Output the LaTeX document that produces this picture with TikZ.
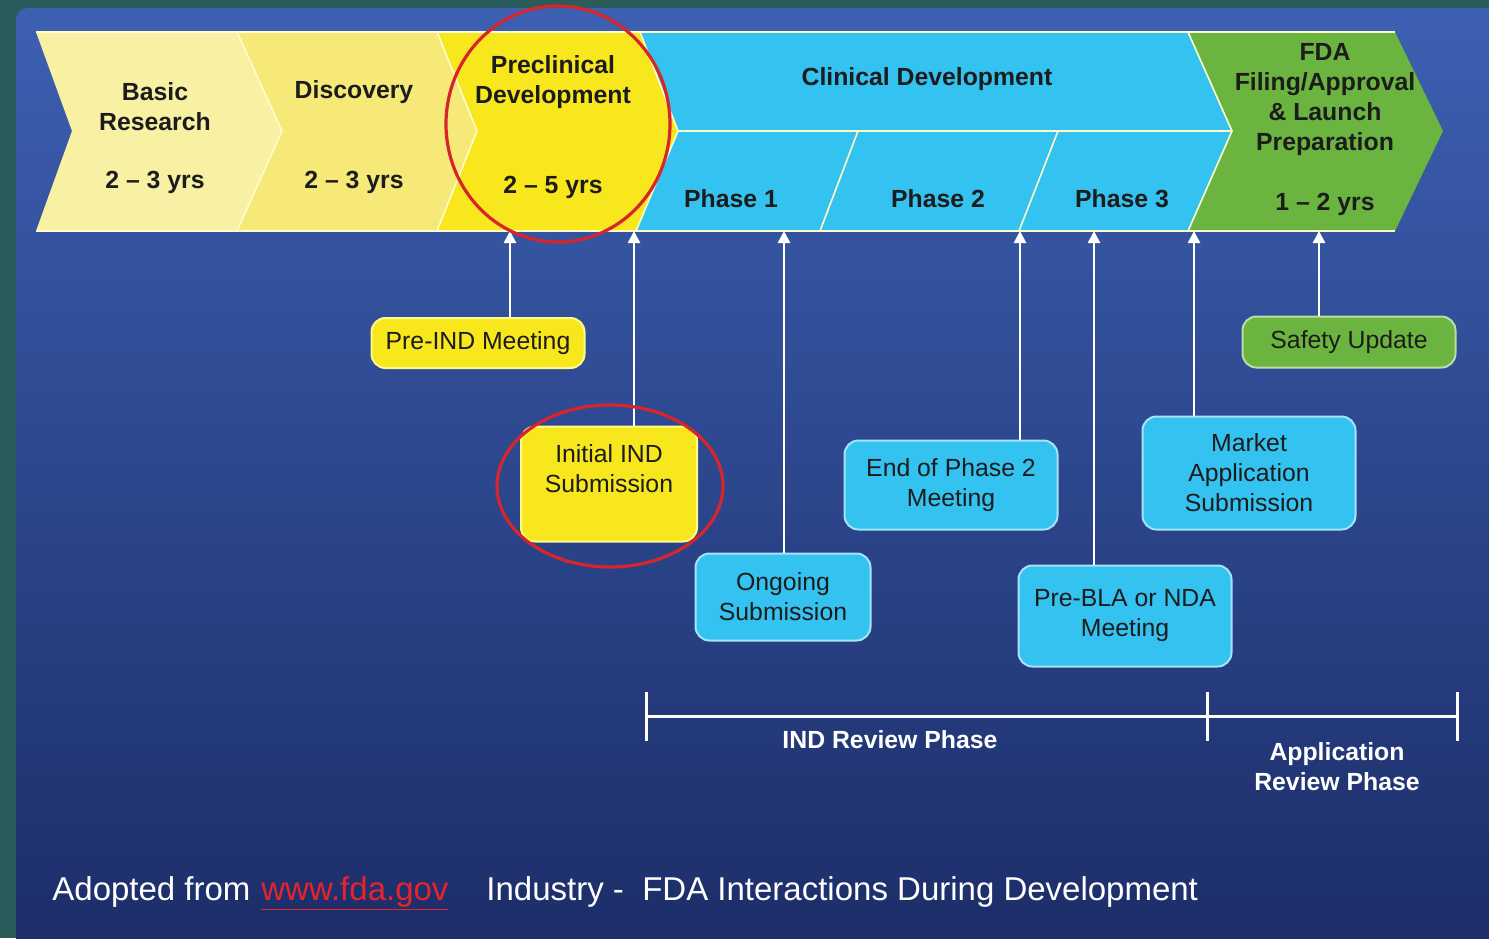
\documentclass[tikz,border=0pt]{standalone}
\usepackage{fontspec}
\setmainfont{Liberation Sans}
\usetikzlibrary{arrows.meta}
\usetikzlibrary{positioning}

\definecolor{frameteal}{HTML}{2A5C5C}
\definecolor{paneltop}{HTML}{3D60B2}
\definecolor{panelbot}{HTML}{1C2D68}
\definecolor{paleyellow}{HTML}{F8F0A2}
\definecolor{midyellow}{HTML}{F6E978}
\definecolor{brightyellow}{HTML}{F8E71C}
\definecolor{skyblue}{HTML}{34C2F0}
\definecolor{leafgreen}{HTML}{6BB43F}
\definecolor{inkdark}{HTML}{1C1C1C}
\definecolor{circlered}{HTML}{D7262B}
\definecolor{linkred}{HTML}{E8232A}

\begin{document}
\begin{tikzpicture}[x=0.5pt,y=-0.5pt,
  every node/.style={inner sep=0pt,text=inkdark,align=center},
  bandtext/.style={font=\fontsize{12.4}{15}\selectfont\bfseries},
  edge/.style={draw=white!80!yellow,line width=0.8pt},
  box/.style={line width=1pt,rounded corners=7pt,minimum width=106.5pt,font=\fontsize{12.4}{15}\selectfont},
  ybox/.style={box,fill=brightyellow,draw=white!55!yellow},
  cbox/.style={box,fill=skyblue,draw=white!55!skyblue},
  gbox/.style={box,fill=leafgreen,draw=white!55!leafgreen},
  arr/.style={draw=white,line width=1.3pt,-{Triangle[width=6pt,length=6pt]}},
  ring/.style={draw=circlered,line width=1.6pt},
  rule/.style={draw=white,line width=1.5pt},
  whitetext/.style={text=white,font=\fontsize{12.4}{15}\selectfont\bfseries},
  foot/.style={text=white,font=\fontsize{16.5}{20}\selectfont,anchor=base west}
]
\useasboundingbox (0,0) rectangle (1489,938);
\fill[frameteal] (0,0) rectangle (1489,938);
\shade[top color=paneltop,bottom color=panelbot,rounded corners=6pt] (16,8) rectangle (1500,950);

% stage band
\fill[paleyellow] (36,32) -- (237,32) -- (282,131) -- (237,231) -- (36,231) -- (72,131) -- cycle;
\fill[midyellow] (237,32) -- (437,32) -- (477,131) -- (437,231) -- (237,231) -- (282,131) -- cycle;
\fill[brightyellow] (437,32) -- (640,32) -- (678,131) -- (636,231) -- (437,231) -- (477,131) -- cycle;
\fill[skyblue] (640,32) -- (1188,32) -- (1232,131) -- (1188,231) -- (636,231) -- (678,131) -- cycle;
\fill[leafgreen] (1188,32) -- (1395,32) -- (1443,131) -- (1395,231) -- (1188,231) -- (1232,131) -- cycle;
\draw[edge] (237,32) -- (282,131) -- (237,231);
\draw[edge] (437,32) -- (477,131) -- (437,231);
\draw[edge] (640,32) -- (678,131) -- (636,231);
\draw[edge] (1188,32) -- (1232,131) -- (1188,231);
\draw[edge] (678,131) -- (1232,131);
\draw[edge] (858,131) -- (820,231);
\draw[edge] (1058,131) -- (1019,231);
\draw[edge] (36,32) -- (1395,32);
\draw[edge] (36,231) -- (1395,231);

\node[bandtext] (basic) at (155,107) {Basic\\Research};
\node[bandtext] (basicyrs) at (155,182) {2 – 3 yrs};
\node[bandtext] (disc) at (354,92) {Discovery};
\node[bandtext] (discyrs) at (354,182) {2 – 3 yrs};
\node[bandtext] (precl) at (553,82) {Preclinical\\Development};
\node[bandtext] (preclyrs) at (553,187) {2 – 5 yrs};
\node[bandtext] (clin) at (927,79) {Clinical Development};
\node[bandtext] (ph1) at (731,199) {Phase 1};
\node[bandtext] (ph2) at (938,199) {Phase 2};
\node[bandtext] (ph3) at (1122,199) {Phase 3};
\node[bandtext] (fda) at (1325,100) {FDA\\Filing/Approval\\\& Launch\\Preparation};
\node[bandtext] (fdayrs) at (1325,204) {1 – 2 yrs};

% interaction boxes
\node[ybox,minimum height=25pt] (preind) at (478,343) {Pre-IND Meeting};
\node[ybox,minimum width=88pt,minimum height=57.5pt] (initind) at (609,484) {Initial IND\\Submission\\\mbox{}};
\node[cbox,minimum width=87.5pt,minimum height=43.5pt] (ongoing) at (783,597) {Ongoing\\Submission};
\node[cbox,minimum height=44.5pt] (eop2) at (951,485) {End of Phase 2\\Meeting};
\node[cbox,minimum height=56.5pt] (market) at (1249,473) {Market\\Application\\Submission};
\node[cbox,minimum height=50.5pt] (prebla) at (1125,616) {Pre-BLA or NDA\\Meeting};
\node[gbox,minimum height=25.5pt] (safety) at (1349,342) {Safety Update};

\coordinate (a1) at (510,231);
\coordinate (a2) at (634,231);
\coordinate (a3) at (784,231);
\coordinate (a4) at (1020,231);
\coordinate (a5) at (1094,231);
\coordinate (a6) at (1194,231);
\coordinate (a7) at (1319,231);
\draw[arr] (preind.north -| a1) -- (a1);
\draw[arr] (initind.north -| a2) -- (a2);
\draw[arr] (ongoing.north -| a3) -- (a3);
\draw[arr] (eop2.north -| a4) -- (a4);
\draw[arr] (prebla.north -| a5) -- (a5);
\draw[arr] (market.north -| a6) -- (a6);
\draw[arr] (safety.north -| a7) -- (a7);

\draw[ring] (558,124) ellipse [x radius=112,y radius=118];
\draw[ring] (610,486) ellipse [x radius=113,y radius=81];

% review phases
\coordinate (ind0) at (646,716);
\coordinate (ind1) at (1207,716);
\coordinate (app1) at (1457,716);
\draw[rule] (ind0) -- (app1);
\foreach \c in {ind0,ind1,app1}
  \draw[rule] ([yshift=12pt]\c) -- ([yshift=-12.5pt]\c);
\node[whitetext] (indrev) at (890,740) {IND Review Phase};
\node[whitetext] (apprev) at (1337,767) {Application\\Review Phase};

\node[foot] (adopt) at (52,900) {Adopted from};
\node[foot,text=linkred] (fdaurl) at (261,900) {\underline{www.fda.gov}};
\node[foot] (industry) at (486,900) {Industry -\ \ FDA Interactions During Development};
\end{tikzpicture}
\end{document}
